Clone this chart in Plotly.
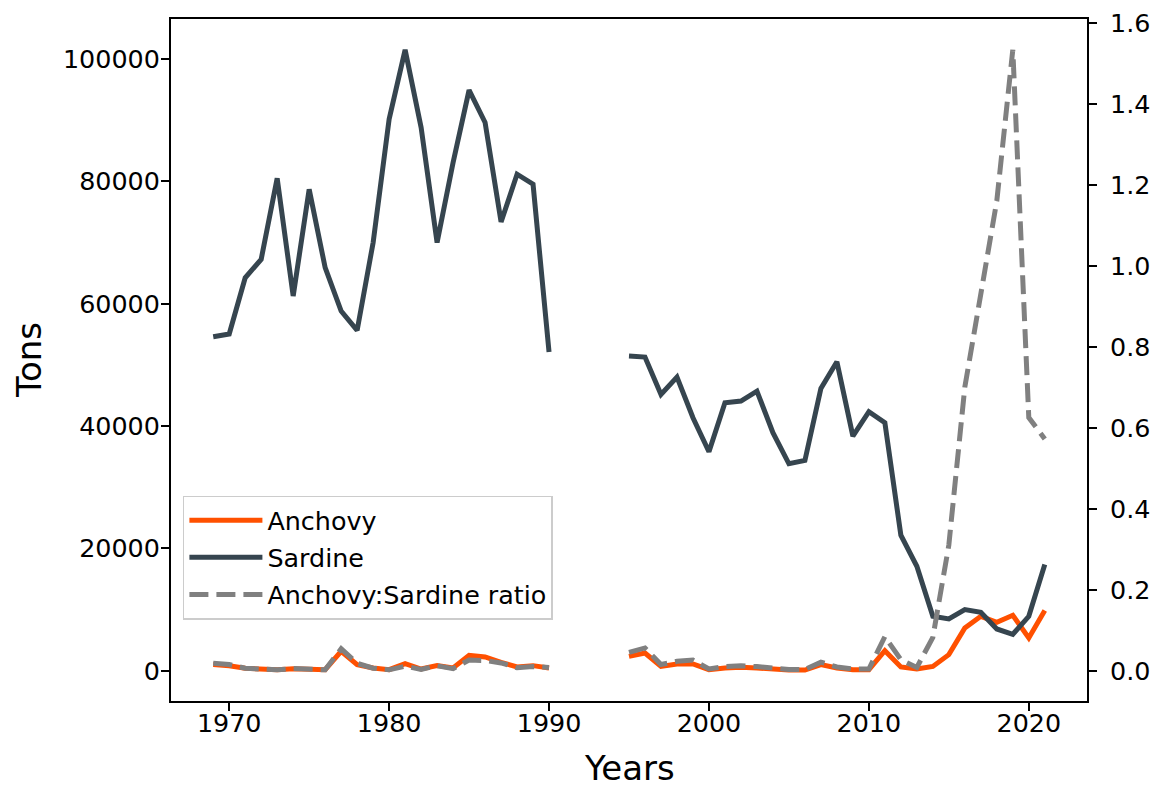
import plotly.graph_objects as go

years = list(range(1969, 1991)) + [1991, 1992, 1993, 1994] + list(range(1995, 2022))

anchovy_early = [1000, 800, 380, 270, 160, 330, 250, 160, 3160, 980, 440, 160, 1150, 270,
                 820, 440, 2500, 2240, 1360, 600, 820, 440]
anchovy_late = [2340, 2890, 700, 1090, 1090, 160, 440, 550, 440, 200, 100, 100, 980, 440,
                160, 160, 3270, 600, 270, 700, 2620, 6980, 8890, 7910, 9060, 5350, 9820]

sardine_early = [54600, 55050, 64250, 67270, 80520, 61260, 78720, 65900, 58800, 55650, 70000,
                 90180, 101520, 88820, 70000, 83090, 94930, 89640, 73370, 81180, 79540, 52100]
sardine_late = [51440, 51280, 45170, 48000, 41350, 35790, 43800, 44080, 45710, 38900, 33830,
                34370, 46150, 50520, 38350, 42340, 40540, 22150, 17070, 8890, 8460, 9980,
                9540, 6820, 5950, 8890, 17350]

ratio_early = [0.018, 0.015, 0.006, 0.004, 0.002, 0.005, 0.003, 0.002, 0.054, 0.018, 0.006,
               0.002, 0.011, 0.003, 0.012, 0.005, 0.026, 0.025, 0.019, 0.007, 0.010, 0.008]
ratio_late = [0.045, 0.056, 0.015, 0.023, 0.026, 0.004, 0.010, 0.012, 0.010, 0.005, 0.003,
              0.003, 0.021, 0.009, 0.004, 0.004, 0.084, 0.027, 0.008, 0.082, 0.31, 0.70,
              0.93, 1.16, 1.533, 0.625, 0.572]

gap = [None] * 4
anchovy = anchovy_early + gap + anchovy_late
sardine = sardine_early + gap + sardine_late
ratio = ratio_early + gap + ratio_late

FONT = "DejaVu Sans"
TICK = 25.4
TITLE = 34
fig = go.Figure()
fig.add_trace(go.Scatter(x=years, y=anchovy, name="Anchovy", mode="lines",
                         line=dict(color="#ff5000", width=5), legendgroup="a"))
fig.add_trace(go.Scatter(x=years, y=sardine, name="Sardine", mode="lines",
                         line=dict(color="#36454f", width=5), legendgroup="b"))
fig.add_trace(go.Scatter(x=years, y=ratio, name="Anchovy:Sardine ratio", mode="lines",
                         line=dict(color="#808080", width=5, dash="19px,8px"),
                         yaxis="y2", legendgroup="c"))

axis_common = dict(showgrid=False, zeroline=False, showline=True, linecolor="black",
                   linewidth=2, ticks="outside", ticklen=8, tickwidth=2, tickcolor="black",
                   automargin=False, ticklabeloverflow="allow",
                   tickfont=dict(family=FONT, size=TICK, color="black"))

# the page body has an 8px margin; compensate so the plot area sits where the reference has it
fig.update_layout(
    width=1151, height=779,
    margin=dict(l=163, r=72, t=11, b=86),
    paper_bgcolor="white", plot_bgcolor="white",
    font=dict(family=FONT, color="black"),
    xaxis=dict(range=[1966.36, 2023.64], tickvals=[1970, 1980, 1990, 2000, 2010, 2020],
               mirror=True, ticklabelstandoff=-9, **axis_common),
    yaxis=dict(range=[-4960, 106560], tickvals=[0, 20000, 40000, 60000, 80000, 100000],
               ticktext=["0", "20000", "40000", "60000", "80000", "100000"],
               ticklabelstandoff=-4, **axis_common),
    yaxis2=dict(range=[-0.075, 1.609], overlaying="y", side="right",
                tickvals=[0, 0.2, 0.4, 0.6, 0.8, 1.0, 1.2, 1.4, 1.6],
                ticktext=["0.0", "0.2", "0.4", "0.6", "0.8", "1.0", "1.2", "1.4", "1.6"],
                ticklabelstandoff=8, **axis_common),
    legend=dict(x=0.013, y=0.119, xanchor="left", yanchor="bottom",
                font=dict(family=FONT, size=TICK, color="black"),
                bgcolor="rgba(255,255,255,0.8)", bordercolor="#cccccc", borderwidth=1.5,
                tracegroupgap=1, itemwidth=73),
    annotations=[
        dict(text="Tons", xref="paper", yref="paper", x=-0.155, y=0.5, textangle=-90,
             xanchor="center", yanchor="middle", showarrow=False, borderpad=0,
             font=dict(family=FONT, size=TITLE, color="black")),
        dict(text="Years", xref="paper", yref="paper", x=0.5, y=-0.098,
             xanchor="center", yanchor="middle", showarrow=False,
             font=dict(family=FONT, size=TITLE, color="black")),
    ],
    showlegend=True,
)

fig.write_html("out.html")
